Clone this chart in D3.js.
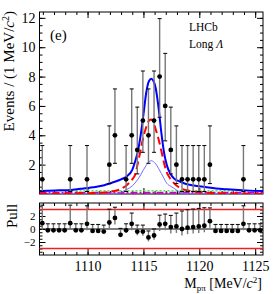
<!DOCTYPE html>
<html>
<head>
<meta charset="utf-8">
<script src="https://cdn.jsdelivr.net/npm/d3@7"></script>
<style>
body { margin: 0; background: #fff; }
text { font-family: "Liberation Serif", "Times New Roman", serif; }
</style>
</head>
<body>
<div id="container"></div>
<script>
var w = 279, h = 294;

// ---- data ----
var binCenters = [1105.95, 1106.45, 1106.95, 1107.45, 1107.95, 1108.45, 1108.95, 1109.45, 1109.95, 1110.45,
                  1110.95, 1111.45, 1111.95, 1112.45, 1112.95, 1113.45, 1113.95, 1114.45, 1114.95, 1115.45,
                  1115.95, 1116.45, 1116.95, 1117.45, 1117.95, 1118.45, 1118.95, 1119.45, 1119.95, 1120.45,
                  1120.95, 1121.45, 1121.95, 1122.45, 1122.95, 1123.45, 1123.95, 1124.45, 1124.95, 1125.45];
var counts = [1, 0, 0, 0, 0, 1, 0, 0, 1, 0, 0, 0, 2, 4, 0, 1, 4, 3, 5, 4,
              5, 8, 6, 3, 2, 1, 1, 1, 1, 1, 2, 0, 0, 0, 0, 0, 1, 0, 0, 0];
// poisson interval half-widths, indexed by count
var errLo = [0, 0.83, 1.29, 1.63, 1.91, 2.16, 2.38, 2.58, 2.77];
var errHi = [1.84, 2.30, 2.64, 2.92, 3.16, 3.38, 3.58, 3.77, 3.95];

var pull = [0.9, -0.2, -0.2, -0.2, -0.2, 0.9, -0.2, -0.2, 0.8, -0.3, -0.3, -0.4, 1.0, 1.7, -0.9, -0.2, 0.8, -0.4, -0.4, -1.3,
            -1.0, 0.7, 0.8, 0.3, 0.4, 0.0, 0.2, 0.3, 0.4, 0.5, 1.2, -0.3, -0.3, -0.3, -0.3, -0.3, 0.8, -0.2, -0.2, -0.2];
var pullLo = [1, 0, 0, 0, 0, 1, 0, 0, 1, 0, 0, 0, 1, 1, 0, 0.36, 1, 0.56, 0.64, 0.6,
              0.64, 1, 1, 1, 1, 1, 1, 1, 1, 1, 1, 0, 0, 0, 0, 0, 1, 0, 0, 0];
var pullHi = [2.77, 1, 1, 1, 1, 2.77, 1, 1, 2.77, 1, 1, 1, 2.05, 1.65, 1, 1, 1.65, 1, 1, 1,
              1, 1.43, 1.5, 1.79, 2.05, 2.77, 2.77, 2.77, 2.77, 2.77, 2.05, 1, 1, 1, 1, 1, 2.77, 1, 1, 1];

// fit curves sampled at these masses
var curveX = [1105.7, 1106.5, 1107.5, 1108.5, 1109.5, 1110.5, 1111.5, 1112, 1112.5, 1113, 1113.5, 1114, 1114.25, 1114.5,
              1114.75, 1115, 1115.25, 1115.5, 1115.7, 1115.9, 1116.1, 1116.35, 1116.6, 1116.85, 1117.1, 1117.4,
              1117.75, 1118.25, 1118.75, 1119.5, 1120.5, 1121.5, 1122.5, 1123.5, 1124.5, 1125.7];
var totalFit = [0.2, 0.22, 0.25, 0.28, 0.36, 0.46, 0.6, 0.72, 0.85, 1.0, 1.2, 1.65, 2.2, 2.9,
                4.0, 5.4, 6.9, 7.7, 7.85, 7.7, 7.2, 5.9, 4.2, 2.8, 1.95, 1.4,
                1.05, 0.85, 0.7, 0.58, 0.48, 0.38, 0.32, 0.27, 0.23, 0.2];
var narrowSig = [0.02, 0.02, 0.03, 0.04, 0.05, 0.07, 0.1, 0.15, 0.22, 0.35, 0.6, 1.0, 1.3, 2.1,
                 3.0, 3.9, 4.55, 5.0, 5.08, 4.9, 4.4, 3.75, 2.95, 2.1, 1.45, 1.05,
                 0.72, 0.42, 0.28, 0.17, 0.1, 0.06, 0.04, 0.03, 0.02, 0.02];
var wideSig = [0, 0, 0, 0, 0, 0, 0, 0, 0.03, 0.12, 0.3, 0.55, 0.75, 1.0,
               1.3, 1.65, 1.95, 2.2, 2.27, 2.2, 2.05, 1.75, 1.4, 1.05, 0.72, 0.55,
               0.38, 0.14, 0.04, 0, 0, 0, 0, 0, 0, 0];
var combBkg = [0.22, 0.22, 0.22, 0.22, 0.22, 0.22, 0.22, 0.22, 0.22, 0.22, 0.22, 0.22, 0.22, 0.22,
               0.22, 0.22, 0.22, 0.22, 0.22, 0.22, 0.22, 0.22, 0.22, 0.22, 0.22, 0.22,
               0.22, 0.22, 0.22, 0.22, 0.22, 0.22, 0.22, 0.22, 0.22, 0.22];
var otherBkg = [0.08, 0.08, 0.08, 0.08, 0.08, 0.08, 0.08, 0.08, 0.08, 0.08, 0.08, 0.08, 0.08, 0.08,
                0.08, 0.08, 0.08, 0.08, 0.08, 0.08, 0.08, 0.08, 0.08, 0.08, 0.08, 0.08,
                0.08, 0.08, 0.08, 0.08, 0.08, 0.08, 0.08, 0.08, 0.08, 0.08];

var xMajor = [1110, 1115, 1120, 1125];
var yMajor = [2, 4, 6, 8, 10, 12];
var pMajor = [-2, 0, 2];
var pullBand = [-3, 3];

// ---- layout ----
var svg = d3.select("div#container").append("svg")
    .attr("width", w).attr("height", h)
    .style("background-color", "white");

var x = d3.scaleLinear().domain([1105.7, 1125.7]).range([39.5, 263]);
var y = d3.scaleLinear().domain([0, 12.4]).range([194, 12]);
var yp = d3.scaleLinear().domain([-4, 4]).range([255, 203]);

var serif = '"Liberation Serif", "Times New Roman", serif';

svg.append("clipPath").attr("id", "clipTop")
  .append("rect").attr("x", x.range()[0]).attr("y", y.range()[1])
    .attr("width", x.range()[1] - x.range()[0]).attr("height", y.range()[0] - y.range()[1]);

// draw ticks on all four sides of a frame
function frame(ys, majorY, minorY, labelSize) {
  var g = svg.append("g");
  var x0 = x.range()[0], x1 = x.range()[1], y0 = ys.range()[1], y1 = ys.range()[0];
  var xMinor = d3.range(1106, 1126, 1);

  [[d3.axisBottom, y1], [d3.axisTop, y0]].forEach(function(a) {
    g.append("g").attr("transform", "translate(0," + a[1] + ")")
      .call(a[0](x).tickValues(xMinor).tickSize(-3).tickFormat(""))
      .call(s => s.select(".domain").remove());
    g.append("g").attr("transform", "translate(0," + a[1] + ")")
      .call(a[0](x).tickValues(xMajor).tickSize(-6).tickFormat(""))
      .call(s => s.select(".domain").remove());
  });
  [[d3.axisLeft, x0], [d3.axisRight, x1]].forEach(function(a) {
    g.append("g").attr("transform", "translate(" + a[1] + ",0)")
      .call(a[0](ys).tickValues(minorY).tickSize(-3).tickFormat(""))
      .call(s => s.select(".domain").remove());
  });
  g.append("g").attr("transform", "translate(" + x1 + ",0)")
    .call(d3.axisRight(ys).tickValues(majorY).tickSize(-6).tickFormat(""))
    .call(s => s.select(".domain").remove());
  g.append("g").attr("transform", "translate(" + x0 + ",0)")
    .call(d3.axisLeft(ys).tickValues(majorY).tickSize(-6).tickPadding(4).tickFormat(d3.format("d")))
    .call(s => s.select(".domain").remove())
    .attr("font-family", serif).attr("font-size", labelSize);
  g.selectAll("line").attr("stroke", "#000").attr("stroke-width", 1);

  g.append("rect").attr("x", x0).attr("y", y0).attr("width", x1 - x0).attr("height", y1 - y0)
    .attr("fill", "none").attr("stroke", "#000").attr("stroke-width", 1);
  return g;
}

frame(y, yMajor, d3.range(0.5, 12.4, 0.5), 14);
frame(yp, pMajor, d3.range(-3.5, 4, 0.5), 11);

// pull x labels
svg.append("g").attr("transform", "translate(0," + yp.range()[0] + ")")
  .call(d3.axisBottom(x).tickValues(xMajor).tickSize(0).tickPadding(6).tickFormat(d3.format("d")))
  .call(s => s.select(".domain").remove())
  .attr("font-family", serif).attr("font-size", 14);

// ---- fit curves ----
var pts = function(vals) { return curveX.map(function(m, i) { return [m, vals[i]]; }); };
var line = d3.line().x(d => x(d[0])).y(d => y(d[1])).curve(d3.curveMonotoneX);
var curves = svg.append("g").attr("clip-path", "url(#clipTop)");

curves.append("path").attr("d", line(pts(otherBkg)))
  .attr("fill", "none").attr("stroke", "#cc00cc").attr("stroke-width", 2).attr("stroke-dasharray", "7,2,2,2");
curves.append("path").attr("d", line(pts(combBkg)))
  .attr("fill", "none").attr("stroke", "#44ee44").attr("stroke-width", 1.5).attr("stroke-dasharray", "2,2");
curves.append("path").attr("d", line(pts(wideSig)))
  .attr("fill", "none").attr("stroke", "#7070ff").attr("stroke-width", 1);
curves.append("path").attr("d", line(pts(narrowSig)))
  .attr("fill", "none").attr("stroke", "#ff0000").attr("stroke-width", 2).attr("stroke-dasharray", "8,4");
curves.append("path").attr("d", line(pts(totalFit)))
  .attr("fill", "none").attr("stroke", "#0000ff").attr("stroke-width", 2);

// ---- data points ----
var data = binCenters.map(function(m, i) { return { m: m, n: counts[i] }; }).filter(d => d.n > 0);
var dg = svg.append("g");
dg.selectAll("line.bar").data(data).enter().append("line")
  .attr("x1", d => x(d.m)).attr("x2", d => x(d.m))
  .attr("y1", d => y(d.n + errHi[d.n])).attr("y2", d => y(d.n - errLo[d.n]))
  .attr("stroke", "#777").attr("stroke-width", 1.4);
dg.selectAll("line.capt").data(data).enter().append("line")
  .attr("x1", d => x(d.m) - 2).attr("x2", d => x(d.m) + 2)
  .attr("y1", d => y(d.n + errHi[d.n])).attr("y2", d => y(d.n + errHi[d.n]))
  .attr("stroke", "#000").attr("stroke-width", 1);
dg.selectAll("line.capb").data(data).enter().append("line")
  .attr("x1", d => x(d.m) - 2).attr("x2", d => x(d.m) + 2)
  .attr("y1", d => y(d.n - errLo[d.n])).attr("y2", d => y(d.n - errLo[d.n]))
  .attr("stroke", "#000").attr("stroke-width", 1);
dg.selectAll("circle").data(data).enter().append("circle")
  .attr("cx", d => x(d.m)).attr("cy", d => y(d.n)).attr("r", 2.4).attr("fill", "#000");

// ---- pull panel ----
var pl = svg.append("g");
pl.selectAll("line.band").data(pullBand).enter().append("line")
  .attr("x1", x.range()[0]).attr("x2", x.range()[1])
  .attr("y1", d => yp(d)).attr("y2", d => yp(d))
  .attr("stroke", "#ee2020").attr("stroke-width", 1.5);
pl.append("line").attr("x1", x.range()[0]).attr("x2", x.range()[1])
  .attr("y1", yp(0)).attr("y2", yp(0)).attr("stroke", "#000").attr("stroke-width", 1);
var pdata = binCenters.map(function(m, i) { return { m: m, p: pull[i], lo: pullLo[i], hi: pullHi[i] }; });
pl.selectAll("line.bar").data(pdata).enter().append("line")
  .attr("x1", d => x(d.m)).attr("x2", d => x(d.m))
  .attr("y1", d => yp(d.p + d.hi)).attr("y2", d => yp(d.p - d.lo))
  .attr("stroke", "#777").attr("stroke-width", 1.4);
pl.selectAll("line.capt").data(pdata).enter().append("line")
  .attr("x1", d => x(d.m) - 2).attr("x2", d => x(d.m) + 2)
  .attr("y1", d => yp(d.p + d.hi)).attr("y2", d => yp(d.p + d.hi))
  .attr("stroke", "#000").attr("stroke-width", 1);
pl.selectAll("circle").data(pdata).enter().append("circle")
  .attr("cx", d => x(d.m)).attr("cy", d => yp(d.p)).attr("r", 2.4).attr("fill", "#000");

// ---- texts ----
svg.append("text").attr("transform", "translate(14,11) rotate(-90)")
  .attr("text-anchor", "end").attr("font-size", 15)
  .html('Events / (1 MeV/<tspan font-style="italic">c</tspan><tspan dy="-5" font-size="10">2</tspan><tspan dy="5">)</tspan>');
svg.append("text").attr("transform", "translate(17,216) rotate(-90)")
  .attr("text-anchor", "middle").attr("font-size", 15).text("Pull");
svg.append("text").attr("x", 262).attr("y", 288).attr("text-anchor", "end").attr("font-size", 14)
  .html('M<tspan dy="3" font-size="9">p\u03C0</tspan><tspan dy="-3"> [MeV/</tspan><tspan font-style="italic">c</tspan><tspan dy="-5" font-size="9">2</tspan><tspan dy="5">]</tspan>');
svg.append("text").attr("x", 50).attr("y", 40).attr("font-size", 15).text("(e)");
svg.append("text").attr("x", 189).attr("y", 31).attr("font-size", 11.5).text("LHCb");
svg.append("text").attr("x", 189).attr("y", 48).attr("font-size", 11.5)
  .html('Long <tspan font-style="italic">\u039B</tspan>');
</script>
</body>
</html>
